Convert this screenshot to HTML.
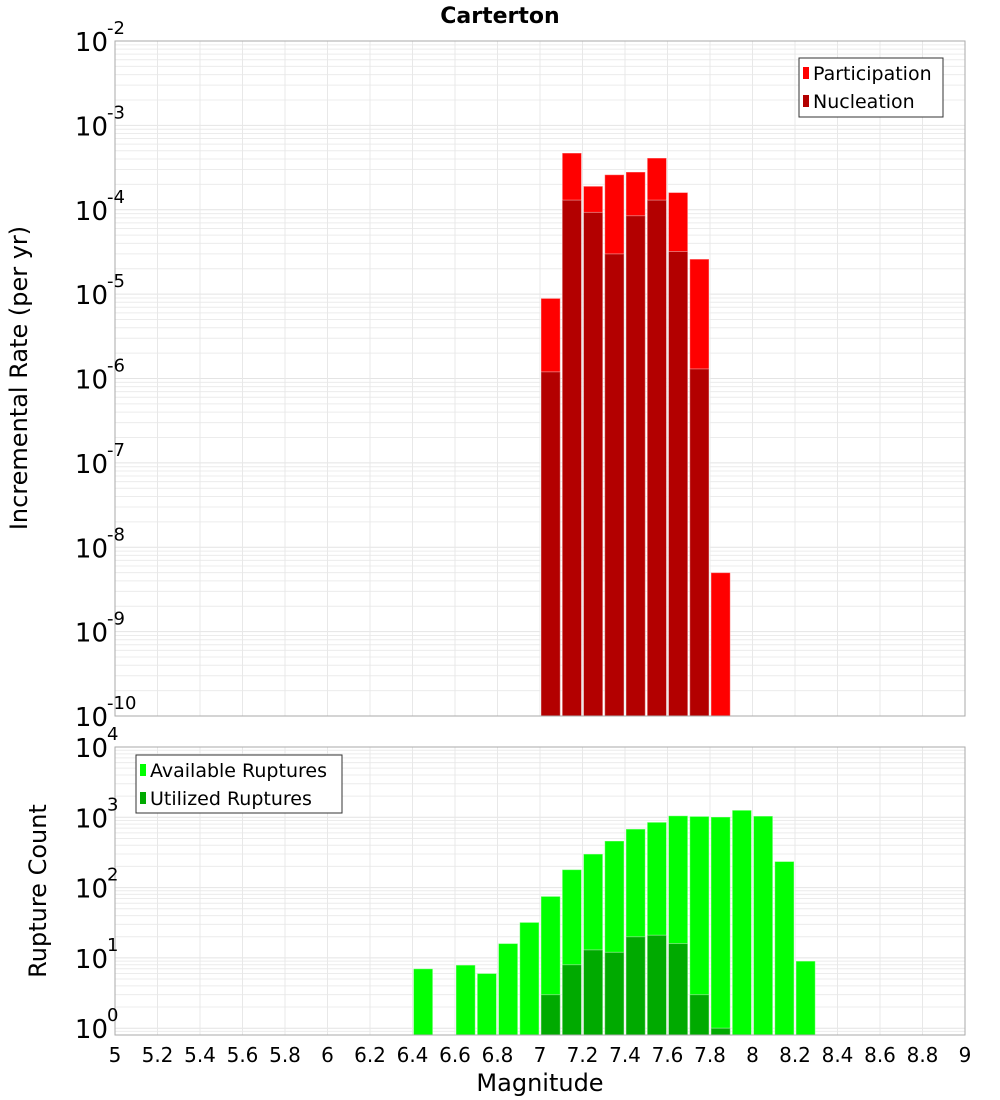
<!DOCTYPE html>
<html><head><meta charset="utf-8">
<style>
html,body{margin:0;padding:0;background:#fff;}
svg{display:block;font-family:"DejaVu Sans","Liberation Sans",sans-serif;}
</style></head>
<body>
<svg id="chart" width="1000" height="1100" viewBox="0 0 1000 1100" xmlns="http://www.w3.org/2000/svg">
<text x="500" y="23" text-anchor="middle" font-size="22" font-weight="bold">Carterton</text>
<g id="top"></g>
<g id="bot"></g>
<text transform="translate(27,378) rotate(-90)" text-anchor="middle" font-size="24">Incremental Rate (per yr)</text>
<text transform="translate(46,891) rotate(-90)" text-anchor="middle" font-size="24">Rupture Count</text>
<text x="540" y="1091" text-anchor="middle" font-size="24">Magnitude</text>
</svg>
<script>
const xTicks = [5,5.2,5.4,5.6,5.8,6,6.2,6.4,6.6,6.8,7,7.2,7.4,7.6,7.8,8,8.2,8.4,8.6,8.8,9];
const rateMags = [7.05,7.15,7.25,7.35,7.45,7.55,7.65,7.75,7.85];
const participation = [8.9e-6,4.7e-4,1.9e-4,2.6e-4,2.8e-4,4.1e-4,1.6e-4,2.6e-5,5e-9];
const nucleation = [1.2e-6,1.3e-4,9.3e-5,3.0e-5,8.5e-5,1.3e-4,3.2e-5,1.3e-6,0];
const countMags = [6.45,6.65,6.75,6.85,6.95,7.05,7.15,7.25,7.35,7.45,7.55,7.65,7.75,7.85,7.95,8.05,8.15,8.25];
const available = [7,7.9,6,16,32,75,180,300,460,680,850,1050,1030,1010,1260,1040,235,9];
const utilizedMags = [7.05,7.15,7.25,7.35,7.45,7.55,7.65,7.75,7.85];
const utilized = [3,8,13,12,20,21,16,3,1];
const topExps = [-2,-3,-4,-5,-6,-7,-8,-9,-10];
const botExps = [4,3,2,1,0];

const NS="http://www.w3.org/2000/svg";
const X0=115,X1=965;
const xs=m=>X0+(m-5)/4*(X1-X0);
const T={top:41,bot:716,lmax:-2,lmin:-10};
const B={top:747,bot:1035,lmax:4,lmin:Math.log10(0.8)};
const ys=(P,v)=>P.top+(P.lmax-Math.log10(v))/(P.lmax-P.lmin)*(P.bot-P.top);
function mk(parent,tag,attrs,txt){const e=document.createElementNS(NS,tag);for(const k in attrs)e.setAttribute(k,attrs[k]);if(txt!==undefined)e.textContent=txt;parent.appendChild(e);return e;}

function panel(g,P){
  mk(g,'rect',{x:X0,y:P.top,width:X1-X0,height:P.bot-P.top,fill:'#fff'});
  const lo=Math.floor(P.lmin);
  for(let d=lo;d<P.lmax;d++){for(let k=1;k<10;k++){const v=k*Math.pow(10,d);const lv=Math.log10(v);if(lv<P.lmin||lv>P.lmax)continue;const y=ys(P,v);
    mk(g,'line',{x1:X0,x2:X1,y1:y,y2:y,stroke:k===1?'#e4e4e4':'#ececec','stroke-width':1});}}
  xTicks.forEach(t=>{const x=xs(t);mk(g,'line',{x1:x,x2:x,y1:P.top,y2:P.bot,stroke:'#e8e8e8','stroke-width':1});});
}
function labelsY(g,P,exps,prefix){
  exps.forEach(e=>{const y=ys(P,Math.pow(10,e));
    const t=mk(g,'text',{x:108,y:y+10,'text-anchor':'end','font-size':26});
    
    
    t.textContent='10';
    mk(g,'text',{x:107,y:y-7,'font-size':18},String(e));
  });
}
function bars(g,P,mags,vals,color,name){
  mags.forEach((m,i)=>{const v=vals[i];if(!(v>0))return;let y=ys(P,v);if(y<P.top)y=P.top;
    const r=mk(g,'rect',{x:xs(m-0.05)+1,y:y,width:xs(m+0.05)-xs(m-0.05)-2,height:P.bot-y,fill:color,stroke:'#fff','stroke-opacity':0.4,'stroke-width':1});
    
    
  });
}
function legend(g,x,y,w,h,items){
  const L=mk(g,'g',{});
  
  
  mk(L,'rect',{x:x,y:y,width:w,height:h,fill:'#fff',stroke:'#333','stroke-width':1});
  items.forEach((it,i)=>{const cy=y+15+i*28;
    mk(L,'rect',{x:x+4,y:cy-6,width:6,height:12,fill:it[1]});
    const t=mk(L,'text',{x:x+14,y:cy+7,'font-size':19},it[0]);
    
    
  });
}
const gt=document.getElementById('top'),gb=document.getElementById('bot');
panel(gt,T);panel(gb,B);
bars(gt,T,rateMags,participation,'#ff0000','participation');
bars(gt,T,rateMags,nucleation,'#b30000','nucleation');
bars(gb,B,countMags,available,'#00ff00','available');
bars(gb,B,utilizedMags,utilized,'#00aa00','utilized');
mk(gt,'rect',{x:X0,y:T.top,width:X1-X0,height:T.bot-T.top,fill:'none',stroke:'#aaa','stroke-width':1});
mk(gb,'rect',{x:X0,y:B.top,width:X1-X0,height:B.bot-B.top,fill:'none',stroke:'#aaa','stroke-width':1});
labelsY(gt,T,topExps,'top');labelsY(gb,B,botExps,'bottom');
xTicks.forEach(t=>{const lab=mk(gb,'text',{x:xs(t),y:1062,'text-anchor':'middle','font-size':20},String(t));
  
  });
legend(gt,799,58,144,59,[['Participation','#ff0000'],['Nucleation','#b30000']]);
legend(gb,136,755,206,58,[['Available Ruptures','#00ff00'],['Utilized Ruptures','#00aa00']]);
</script>
</body></html>
